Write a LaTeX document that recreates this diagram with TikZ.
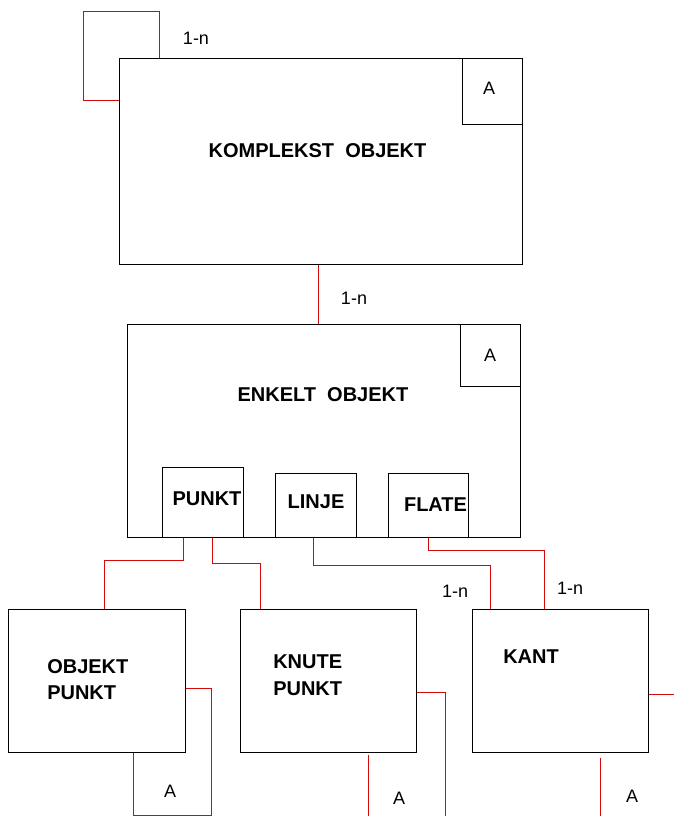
\documentclass[tikz,border=0pt]{standalone}
\usepackage{fontspec}
\setmainfont{Liberation Sans}
\usetikzlibrary{fit}
\definecolor{linkred}{RGB}{210,10,10}
\begin{document}
\begin{tikzpicture}[x=0.75pt,y=-0.75pt,
 box/.style={draw=black, line width=0.75pt, inner sep=0pt, fill=white},
 link/.style={draw=linkred, line width=0.75pt},
 title/.style={font=\fontsize{15}{18}\selectfont\bfseries, inner sep=0pt},
 lbl/.style={font=\fontsize{13.5}{16}\selectfont, inner sep=0pt}]
\useasboundingbox (0,0) rectangle (674,816);

% boxes
\node[box, fit={(119,59)(522,265)}] (komp) {};
\node[box, fit={(462,59)(522,125)}] (kompA) {};
\node[box, fit={(127,324)(520,537)}] (enk) {};
\node[box, fit={(460,324)(520,386)}] (enkA) {};
\node[box, fit={(162,467)(243,537)}] (punkt) {};
\node[box, fit={(275,473)(356,537)}] (linje) {};
\node[box, fit={(388,473)(468,537)}] (flate) {};
\node[box, fit={(8,609)(185,752)}] (op) {};
\node[box, fit={(240,609)(416,752)}] (kn) {};
\node[box, fit={(472,609)(648,752)}] (kant) {};

% texts
\node[title] (tkomp) at (317.5,151) {KOMPLEKST\ \ OBJEKT};
\node[lbl] (tkompA) at (489,88) {A};
\node[title] (tenk) at (323,395) {ENKELT\ \ OBJEKT};
\node[lbl] (tenkA) at (490,355) {A};
\node[title] (tpunkt) at (207,499) {PUNKT};
\node[title] (tlinje) at (316,502) {LINJE};
\node[title] (tflate) at (435.5,505) {FLATE};
\node[title, anchor=west] (top1) at (47,667) {OBJEKT};
\node[title, anchor=west] (top2) at (47,693) {PUNKT};
\node[title, anchor=west] (tkn1) at (273,662) {KNUTE};
\node[title, anchor=west] (tkn2) at (273,689) {PUNKT};
\node[title, anchor=west] (tkant) at (503,657) {KANT};

% multiplicities
\node[lbl] (m1) at (196,38) {1-n};
\node[lbl] (m2) at (354,298) {1-n};
\node[lbl] (m3) at (455,591) {1-n};
\node[lbl] (m4) at (570,588) {1-n};

% bottom A labels
\node[lbl] (aop) at (170,791) {A};
\node[lbl] (akn) at (399,798) {A};
\node[lbl] (akant) at (632,796) {A};

% free ends
\coordinate (knEnd) at (445,816);
\coordinate (knBot) at (368,816);
\coordinate (kantEnd) at (674,694);
\coordinate (kantBot) at (600,816);

% connectors
\draw[link] (komp.north -| 159,0) -- (159,12) -- (83,12) -- (83,101) -- (komp.west |- 0,101);
\draw[link] (komp.south -| 318,0) -- (enk.north -| 318,0);
\draw[link] (punkt.south -| 183,0) |- (104,560) -- (op.north -| 104,0);
\draw[link] (punkt.south -| 212,0) |- (260,563) -- (kn.north -| 260,0);
\draw[link] (linje.south -| 313,0) |- (490,565) -- (kant.north -| 490,0);
\draw[link] (flate.south -| 428,0) |- (544,550) -- (kant.north -| 544,0);
\draw[link] (op.east |- 0,688) -- (211,688) -- (211,815) -- (133,815) -- (op.south -| 133,0);
\draw[link] (kn.east |- 0,692) -| (knEnd);
\draw[link] (kn.south -| 368,0) ++(0,2) -- (knBot);
\draw[link] (kant.east |- 0,694) -- (kantEnd);
\draw[link] (kant.south -| 600,0) ++(0,5) -- (kantBot);
\end{tikzpicture}
\end{document}
